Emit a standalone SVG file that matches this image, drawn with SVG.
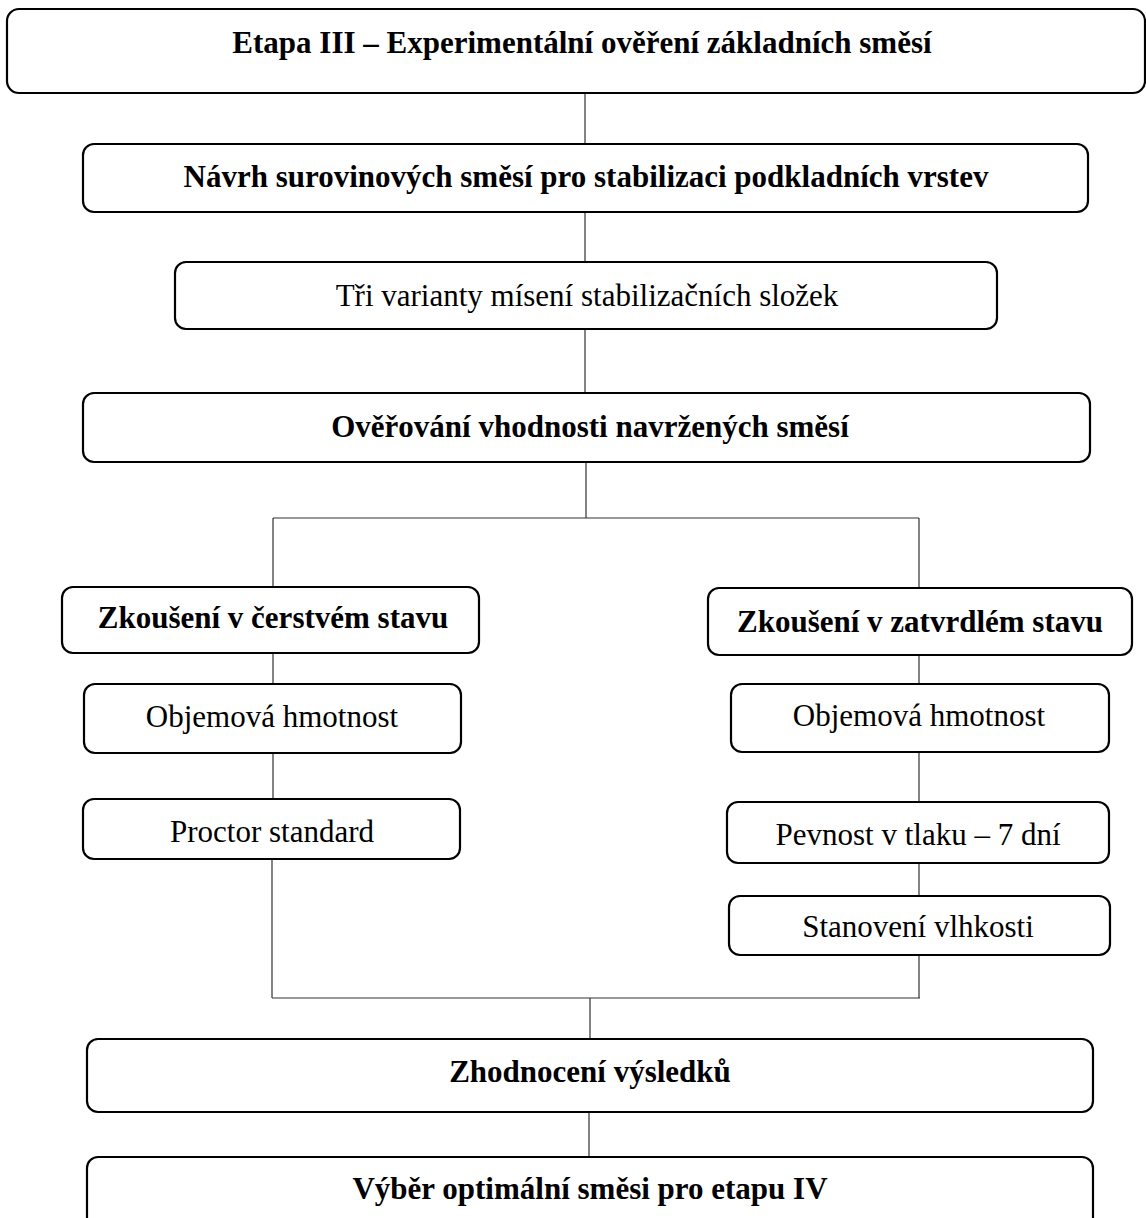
<svg xmlns="http://www.w3.org/2000/svg" width="1146" height="1218" viewBox="0 0 1146 1218">
<style>
.box{fill:#fff;stroke:#000;stroke-width:2.2}
.c{fill:none;stroke:#333;stroke-width:1.2}
text{font-family:"Liberation Serif","Times New Roman",serif;font-size:31px;fill:#000;text-anchor:middle}
.b{font-weight:bold}
</style>
<rect width="1146" height="1218" fill="#fff"/>
<g id="connectors">
<path class="c" d="M585 93V144M585 212V262M585 329V393M586 462V518M273 518H919M273 518V587M919 518V588"/>
<path class="c" d="M273 653V684M273 753V799M272 859V998M919 655V684M919 752V802M919 863V896M919 955V998M272 998H920M590 998V1039M589 1112V1157"/>
</g>
<g id="n1"><rect class="box" x="7" y="9" width="1138" height="84" rx="12"/><text class="b" x="582" y="53">Etapa III – Experimentální ověření základních směsí</text></g>
<g id="n2"><rect class="box" x="83" y="144" width="1005" height="68" rx="11"/><text class="b" x="586" y="187">Návrh surovinových směsí pro stabilizaci podkladních vrstev</text></g>
<g id="n3"><rect class="box" x="175" y="262" width="822" height="67" rx="11"/><text x="587" y="306">Tři varianty mísení stabilizačních složek</text></g>
<g id="n4"><rect class="box" x="83" y="393" width="1007" height="69" rx="11"/><text class="b" x="590" y="437">Ověřování vhodnosti navržených směsí</text></g>
<g id="n5"><rect class="box" x="62" y="587" width="417" height="66" rx="11"/><text class="b" x="273" y="628">Zkoušení v čerstvém stavu</text></g>
<g id="n6"><rect class="box" x="84" y="684" width="377" height="69" rx="11"/><text x="272" y="727">Objemová hmotnost</text></g>
<g id="n7"><rect class="box" x="83" y="799" width="377" height="60" rx="11"/><text x="272" y="842">Proctor standard</text></g>
<g id="n8"><rect class="box" x="708" y="588" width="424" height="67" rx="11"/><text class="b" x="920" y="632">Zkoušení v zatvrdlém stavu</text></g>
<g id="n9"><rect class="box" x="731" y="684" width="378" height="68" rx="11"/><text x="919" y="726">Objemová hmotnost</text></g>
<g id="n10"><rect class="box" x="727" y="802" width="382" height="61" rx="11"/><text x="918" y="845">Pevnost v tlaku – 7 dní</text></g>
<g id="n11"><rect class="box" x="729" y="896" width="381" height="59" rx="11"/><text x="918" y="937">Stanovení vlhkosti</text></g>
<g id="n12"><rect class="box" x="87" y="1039" width="1006" height="73" rx="11"/><text class="b" x="590" y="1082">Zhodnocení výsledků</text></g>
<g id="n13"><rect class="box" x="87" y="1157" width="1006" height="80" rx="11"/><text class="b" x="590" y="1199">Výběr optimální směsi pro etapu IV</text></g>
</svg>
